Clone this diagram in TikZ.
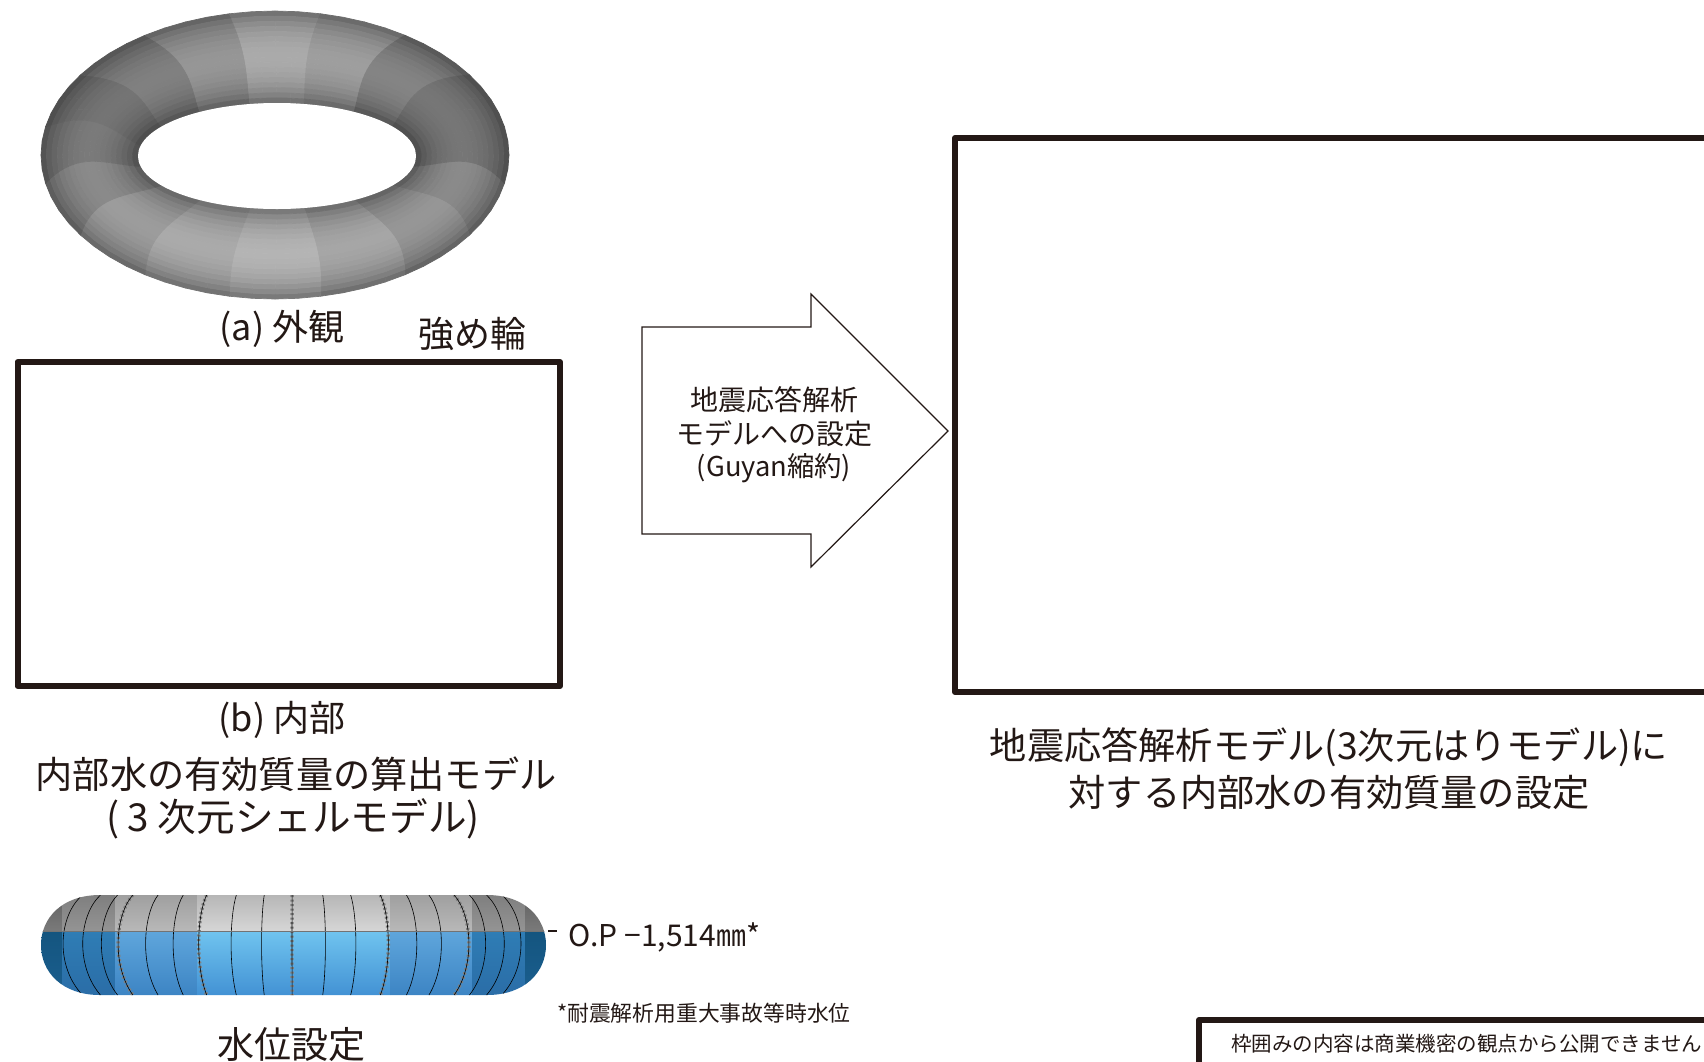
\documentclass[tikz,border=0pt]{standalone}
\usepackage{fontspec}
\setmainfont{Noto Sans CJK JP}
\definecolor{ink}{HTML}{231815}
\definecolor{tc}{rgb}{0.5,0.5,0.5}
\definecolor{gA}{HTML}{5E5E5E}\definecolor{gAb}{HTML}{7A7A7A}
\definecolor{gB}{HTML}{7C7C7C}\definecolor{gBb}{HTML}{949494}
\definecolor{gC}{HTML}{9C9C9C}\definecolor{gCb}{HTML}{B8B8B8}
\definecolor{gD}{HTML}{B2B2B2}\definecolor{gDb}{HTML}{D6D6D6}
\definecolor{bA}{HTML}{14557F}\definecolor{bAb}{HTML}{1B5F90}
\definecolor{bB}{HTML}{2F7DB5}\definecolor{bBb}{HTML}{2A6CA6}
\definecolor{bC}{HTML}{5FA6DC}\definecolor{bCb}{HTML}{3A82C2}
\definecolor{bD}{HTML}{70C4EF}\definecolor{bDb}{HTML}{3F8ED2}
\tikzset{
  frame/.style={draw=ink,line width=6pt,line join=round},
  lbl/.style={text=ink,inner sep=0pt,align=center},
  capt/.style={lbl,font=\fontsize{36}{36}\selectfont},
  titl/.style={lbl,font=\fontsize{37.2}{37.2}\selectfont},
  small/.style={lbl,font=\fontsize{28}{28}\selectfont},
  seam/.style={draw=black,line width=0.6pt},
  ticks/.style={draw=black!50,line width=3.4pt,dash pattern=on 2pt off 2.5pt},
}
\newcommand{\bandfill}[6]{%
  \shade[top color=#3,bottom color=#4] (#1,890) rectangle (#2,931);
  \shade[top color=#5,bottom color=#6] (#1,931) rectangle (#2,1000);
}
\newcommand{\ringline}[2]{%
  \draw[#2] ({293.5+(#1-293.5)*0.90},895) .. controls ({293.5+(#1-293.5)*1.0},915) and ({293.5+(#1-293.5)*1.02},965) .. ({293.5+(#1-293.5)*0.90},995);
}
\begin{document}
\begin{tikzpicture}[x=1pt,y=-1pt]
\useasboundingbox (0,0) rectangle (1704,1061);
% torus
\foreach \k in {0,...,63}{
  \foreach \j in {0,...,17}{
    \pgfmathsetmacro{\thA}{11.25+\k*5.625}
    \pgfmathsetmacro{\thB}{\thA+5.625}
    \pgfmathsetmacro{\tA}{\j/18}
    \pgfmathsetmacro{\tB}{(\j+1)/18}
    \pgfmathsetmacro{\tM}{(\j+0.5)/18}
    \pgfmathtruncatemacro{\si}{mod(1+int(\k/4),16)}
    \pgfmathsetmacro{\base}{{118,138,150,166,180,170,156,138,122,116,128,150,170,158,132,118}[\si]}
    \pgfmathsetmacro{\prof}{0.58+0.42*pow(sin(180*\tM),0.6)}
    \pgfmathsetmacro{\val}{min(1,\base*\prof/255)}
    \definecolor{tc}{rgb}{\val,\val,\val}
    \pgfmathsetmacro{\wAA}{\thA-8*sin(180*\tA)*cos(\thA)}
    \pgfmathsetmacro{\wBA}{\thB-8*sin(180*\tA)*cos(\thB)}
    \pgfmathsetmacro{\wAB}{\thA-8*sin(180*\tB)*cos(\thA)}
    \pgfmathsetmacro{\wBB}{\thB-8*sin(180*\tB)*cos(\thB)}
    \pgfmathsetmacro{\rxA}{234-95*\tA}\pgfmathsetmacro{\ryA}{144-91*\tA}
    \pgfmathsetmacro{\rxB}{234-95*\tB}\pgfmathsetmacro{\ryB}{144-91*\tB}
    \pgfmathsetmacro{\cxA}{275+2*\tA}\pgfmathsetmacro{\cyA}{155+\tA}
    \pgfmathsetmacro{\cxB}{275+2*\tB}\pgfmathsetmacro{\cyB}{155+\tB}
    \fill[tc,draw=tc,line width=0.7pt,line join=round]
      ({\cxA+\rxA*cos(\wAA)},{\cyA+\ryA*sin(\wAA)}) --
      ({\cxA+\rxA*cos(\wBA)},{\cyA+\ryA*sin(\wBA)}) --
      ({\cxB+\rxB*cos(\wBB)},{\cyB+\ryB*sin(\wBB)}) --
      ({\cxB+\rxB*cos(\wAB)},{\cyB+\ryB*sin(\wAB)}) -- cycle;
  }
}
\fill[white] (277,156) ellipse [x radius=139,y radius=53];
% labels top left
\node[capt] (a) at (282,329) {(a) 外観};
\node[capt] (rib) at (472,334) {強め輪};
% left masked frame
\draw[frame] (17.5,362) rectangle (560,686);
\node[capt] (b) at (282,720) {(b) 内部};
\node[titl] (t1) at (296,774) {内部水の有効質量の算出モデル};
\node[titl,font=\fontsize{38.6}{38.6}\selectfont] (t2) at (293,819) {( 3 次元シェルモデル)};
% arrow
\draw[draw=ink,line width=1.2pt,line join=miter,fill=white] (642,327) -- (811,327) -- (811,294) -- (948,431) -- (811,567) -- (811,534) -- (642,534) -- cycle;
\node[small] (ar1) at (774,400) {地震応答解析};
\node[small] (ar2) at (774,434) {モデルへの設定};
\node[small,font=\fontsize{27.3}{27.3}\selectfont] (ar3) at (774,468) {(Guyan縮約)};
% right frame
\draw[frame] (1712,138) -- (955,138) -- (955,692) -- (1712,692);
\node[titl] (r1) at (1329,747) {地震応答解析モデル(3次元はりモデル)に};
\node[titl] (r2) at (1329,792) {対する内部水の有効質量の設定};
% side view
\begin{scope}
\clip (100,895) .. controls (62,895) and (41,918) .. (41,945) .. controls (41,972) and (62,995) .. (100,995) -- (487,995) .. controls (525,995) and (546,972) .. (546,945) .. controls (546,918) and (525,895) .. (487,895) -- cycle;
\bandfill{40}{62}{gA}{gAb}{bA}{bAb}
\bandfill{62}{115}{gB}{gBb}{bB}{bBb}
\bandfill{115}{197}{gC}{gCb}{bC}{bCb}
\bandfill{197}{390}{gD}{gDb}{bD}{bDb}
\bandfill{390}{472}{gC}{gCb}{bC}{bCb}
\bandfill{472}{525}{gB}{gBb}{bB}{bBb}
\bandfill{525}{547}{gA}{gAb}{bA}{bAb}
\foreach \x in {115,197,292,390,472}{\ringline{\x}{ticks}}
\foreach \x in {59,79,98,115,143,171,197,230,261,292,326,357,390,419,444,472,489,508,525}{\ringline{\x}{seam}}
\draw[draw=black!55,line width=1pt] (41,931) -- (546,931);
\end{scope}
\coordinate (wl) at (546,931);
\coordinate (wr) at (557,931);
\draw[ink,line width=1.3pt] (wl) ++(2,0) -- (wr);
\node[lbl,anchor=west,font=\fontsize{30}{30}\selectfont] (op) at (568,937) {O.P −1,514㎜*};
\node[lbl,anchor=west,font=\fontsize{21.8}{21.8}\selectfont] (note) at (557,1013) {*耐震解析用重大事故等時水位};
\node[lbl,font=\fontsize{37}{37}\selectfont] (lvl) at (291,1045) {水位設定};
% bottom note frame
\draw[frame] (1712,1020) -- (1199,1020) -- (1199,1070);
\node[lbl,anchor=west,font=\fontsize{20.5}{20.5}\selectfont] (mask) at (1231,1044) {枠囲みの内容は商業機密の観点から公開できません};
\end{tikzpicture}
\end{document}
